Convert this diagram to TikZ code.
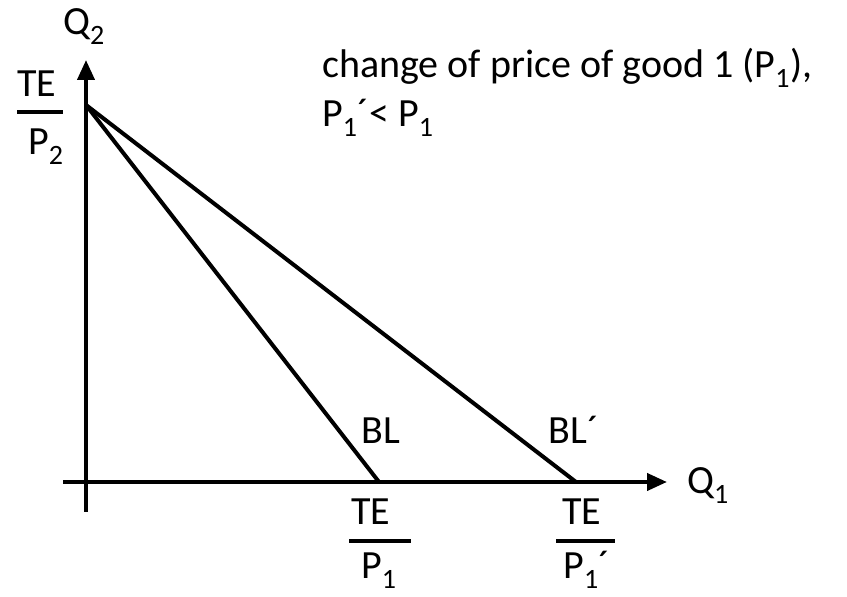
\documentclass[tikz,border=0pt]{standalone}
\usepackage{fontspec}
\setmainfont{Carlito}
\usepackage{tikz}
\usetikzlibrary{arrows.meta, positioning}
\newcommand{\lowidx}[1]{\textsubscript{#1}}

\begin{document}
\begin{tikzpicture}[
    x=1pt, y=1pt,
    every node/.style={font=\fontsize{40}{48}\selectfont, inner sep=0pt},
    axis/.style={line width=4pt, -{Triangle[length=20pt, width=17pt]}},
    budget/.style={line width=4pt},
    fracbar/.style={line width=4pt},
    lbl/.style={anchor=base}
]
    \useasboundingbox (0,0) rectangle (847,597);

    % Axes
    \coordinate (origin) at (86,115);
    \coordinate (ybot) at (86,85);
    \coordinate (ytop) at (86,537);
    \coordinate (xleft) at (63,115);
    \coordinate (xright) at (667,115);
    \draw[axis] (ybot) -- (ytop);
    \draw[axis] (xleft) -- (xright);
    \node[anchor=base west] (q2) at (63,562) {Q\lowidx{2}};
    \node[anchor=base west] (q1) at (687,103) {Q\lowidx{1}};

    % Budget lines
    \coordinate (top) at (86,492);
    \coordinate (bl) at (379,115);
    \coordinate (blp) at (576,115);
    \draw[budget] (top) -- (bl);
    \draw[budget] (top) -- (blp);
    \node[lbl] (bllabel) at (381,153) {BL};
    \node[lbl] (blplabel) at (574,153) {BL´};

    % Intercepts
    \node[lbl] (te2) at (37,500) {TE};
    \node[lbl] (p2) at (46,442) {P\lowidx{2}};
    \draw[fracbar] (17,485) -- (63,485);

    \node[lbl] (te1) at (371,72) {TE};
    \node[lbl] (p1) at (379,18) {P\lowidx{1}};
    \draw[fracbar] (349,56) -- (411,56);

    \node[lbl] (te1p) at (582,72) {TE};
    \node[lbl] (p1p) at (587,18) {P\lowidx{1}´};
    \draw[fracbar] (556,56) -- (615,56);

    % Note
    \node[anchor=base west] (note1) at (322,519) {change of price of good 1 (P\lowidx{1}),};
    \node[anchor=base west] (note2) at (322,470) {P\lowidx{1}´< P\lowidx{1}};
\end{tikzpicture}
\end{document}
